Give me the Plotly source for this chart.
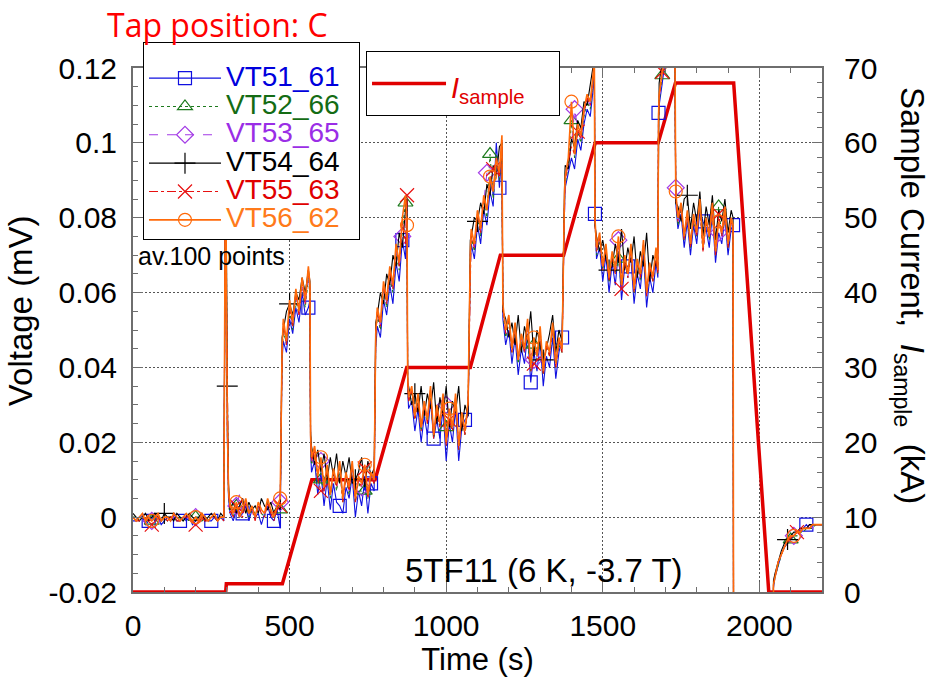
import plotly.graph_objects as go

# ---------------- data ----------------
# time samples (s), grouped by segment of the test
TIME_S = [
    [0,10,20,30,40,50,60,70,80,90,100,110,120,130,140,150,160,170,180,190,200,210,220,230,240,250,260,270,280,290],
    [296,298,301,305],
    [310,320,330,340,350,360,370,380,390,400,410,420,430,440,450,460,470],
    [476,480,490,500,510,520,530,540,550,560,565],
    [567,570,580,590,600,610,620,630,640,650,660,670,680,690,700,710,720,730,740,750,760,770],
    [775,780,790,800,810,820,830,840,850,860,870,875],
    [877,880,890,900,910,920,930,940,950,960,970,980,990,1000,1010,1020,1030,1040,1050,1060,1070],
    [1077,1080,1090,1100,1110,1120,1130,1140,1150,1160,1170,1178],
    [1181,1190,1200,1210,1220,1230,1240,1250,1260,1270,1280,1290,1300,1310,1320,1330,1340,1350,1360,1370],
    [1378,1380,1390,1400,1410,1420,1430,1440,1450,1460,1470,1473],
    [1475,1480,1490,1500,1510,1520,1530,1540,1550,1560,1570,1580,1590,1600,1610,1620,1630,1640,1650,1660,1670,1676],
    [1678,1680,1690,1700,1710,1720,1730],
    [1733,1740,1750,1760,1770,1780,1790,1800,1810,1820,1830,1840,1850,1860,1870,1880,1890,1900,1910,1916],
    [1918,2044],
    [2045,2050,2060,2070,2080,2090,2100,2110,2120,2130,2140,2150,2160,2170,2180,2190,2200],
]

# voltages in microvolt (axis labelled in mV)
VT51_61 = [
    [-1,-1,0,0,-2,-1,0,-1,0,-2,-1,0,-1,0,-1,-1,0,-1,0,-2,-1,0,-1,0,-1,-1,0,-1,0,-1],
    [105,58,22,5],
    [1,-1,2,0,1,3,-1,2,0,1,-2,1,3,0,-1,2,-3],
    [42,47,44,53,49,56,52,60,54,56,58],
    [18,12,15,6,12,3,10,2,9,4,3,1,8,5,11,0,7,3,10,1,9,7],
    [45,51,48,58,54,62,57,68,63,74,69,82],
    [34,29,31,23,29,20,27,22,31,21,26,21,29,15,25,20,29,15,24,26,27],
    [67,73,69,78,73,82,78,87,83,100,88,98],
    [53,46,50,41,48,38,45,41,49,36,44,39,47,35,43,40,48,37,44,48],
    [83,88,92,96,93,101,98,105,109,107,115,122],
    [81,69,72,63,70,60,68,62,71,58,67,67,69,57,65,61,70,56,64,60,68,64],
    [108,110,116,123,129,129,129],
    [84,77,81,72,79,70,78,73,82,79,77,72,81,68,76,73,80,70,77,78],
    [-60,-60],
    [-19,-16,-13,-10,-8,-7,-6,-5,-4,-4,-3,-2,-3,-2,-2,-2,-2],
]
VT52_66 = [
    [0,0,-1,0,-1,0,-1,0,0,-1,0,-1,0,0,-1,0,-1,0,0,-1,0,0,-1,0,-1,0,0,-1,0,0],
    [106,60,25,6],
    [2,0,3,1,1,4,0,2,1,3,1,0,4,1,0,2,2],
    [43,50,46,55,50,58,54,61,56,64,59],
    [20,14,17,9,10,7,12,5,12,7,13,4,11,6,13,4,10,6,7,5,11,9],
    [47,54,50,61,56,64,60,70,66,77,84,85],
    [36,31,33,26,31,23,29,25,33,21,28,24,31,24,28,23,31,18,27,22,30],
    [69,75,71,80,75,84,80,97,85,94,90,100],
    [55,48,52,44,50,41,47,44,47,39,46,42,49,38,46,43,50,40,46,44],
    [85,89,94,106,96,103,100,107,111,109,117,124],
    [79,70,74,66,72,63,70,65,69,61,68,64,71,60,68,63,72,59,67,63,70,65],
    [105,111,118,124,131,131,131],
    [85,78,82,74,80,72,79,75,83,71,79,74,82,70,83,75,81,72,79,77],
    [-60,-60],
    [-18,-16,-13,-10,-8,-7,-6,-5,-5,-4,-4,-3,-3,-3,-2,-2,-2],
]
VT53_65 = [
    [0,-1,0,0,-1,0,-1,0,0,-1,0,0,-1,0,0,-1,0,0,0,-1,0,-1,0,0,-1,0,0,-1,0,0],
    [107,61,25,6],
    [3,1,3,6,1,4,1,2,0,3,1,0,4,2,0,3,4],
    [44,51,46,56,51,59,54,62,57,65,60],
    [21,15,18,10,15,7,13,6,12,8,14,5,11,7,14,5,10,8,13,9,11,9],
    [48,55,51,62,57,66,61,72,67,75,73,86],
    [37,32,34,27,32,24,30,26,34,22,29,25,32,30,28,24,32,19,27,23,30],
    [70,76,72,81,76,85,92,90,86,95,91,101],
    [56,49,53,45,51,42,48,44,52,40,42,43,50,39,46,43,51,41,47,45],
    [86,90,95,99,109,104,101,108,112,110,118,125],
    [79,71,75,67,72,64,70,66,74,61,69,64,72,61,68,64,73,59,67,63,71,66],
    [106,112,118,125,131,131,131],
    [88,79,83,75,81,72,80,76,84,71,79,75,83,70,76,75,82,72,79,77],
    [-60,-60],
    [-18,-15,-12,-10,-8,-6,-5,-5,-4,-4,-3,-3,-2,-3,-2,-2,-2],
]
VT54_64 = [
    [1,0,-1,0,1,-1,0,1,0,-1,1,0,0,-1,1,0,-1,0,1,0,-1,0,1,-1,0,1,0,-1,1,0],
    [108,60,35,9],
    [2,4,1,3,5,1,4,2,3,1,5,3,2,4,1,3,2],
    [48,50,55,57,54,60,58,64,60,66,63],
    [23,19,14,18,12,17,10,16,11,17,9,15,11,16,9,10,12,16,8,15,11,13],
    [52,54,60,57,65,62,70,67,76,72,82,85],
    [36,35,30,33,28,35,27,33,29,36,25,32,27,35,24,31,28,35,23,30,27],
    [74,75,80,79,84,81,89,86,94,91,99,100],
    [55,53,48,52,46,54,44,51,47,55,43,50,46,42,45,49,54,44,50,47],
    [89,94,93,101,99,106,104,111,110,116,121,128],
    [78,75,71,74,69,66,67,73,68,77,66,72,68,75,64,71,67,76,63,70,67,73],
    [110,116,122,128,134,134,134],
    [84,83,79,85,86,77,84,79,87,75,83,78,86,74,82,79,85,76,82,80],
    [-60,-60],
    [-17,-15,-12,-9,-7,-6,-5,-4,-4,-3,-3,-3,-2,-2,-2,-2,-2],
]
VT55_63 = [
    [0,-1,-1,0,-1,0,-2,0,0,-1,0,-1,0,1,-1,-1,0,0,0,-1,-2,0,0,-1,-1,0,0,-1,0,-1],
    [109,62,27,7],
    [2,0,3,1,0,4,1,2,-1,3,1,0,4,1,-1,2,3],
    [44,52,46,56,51,60,54,63,57,66,61],
    [21,15,18,10,7,7,13,6,12,8,14,4,11,7,14,4,10,8,13,5,11,9],
    [48,55,51,62,57,66,61,72,67,79,73,86],
    [35,31,34,26,32,23,30,25,34,21,28,24,32,19,26,23,32,18,27,22,30],
    [70,76,72,81,76,85,82,90,93,95,91,101],
    [56,49,53,44,51,42,48,44,52,39,41,42,50,38,46,43,51,40,47,44],
    [86,90,95,99,97,103,101,108,112,110,118,125],
    [79,71,75,66,72,63,70,65,74,61,69,64,71,60,68,64,73,59,67,63,70,65],
    [106,112,119,126,131,131,131],
    [86,79,83,74,81,72,80,75,84,71,79,75,83,70,81,75,82,72,79,77],
    [-60,-60],
    [-18,-16,-12,-10,-8,-7,-5,-5,-4,-4,-3,-3,-3,-2,-2,-2,-2],
]
VT56_62 = [
    [0,-1,0,1,-1,0,-1,0,1,-1,0,0,-1,1,0,-1,0,1,0,-1,0,-1,1,0,-1,0,1,-1,0,0],
    [112,64,26,7],
    [3,1,4,0,2,5,1,3,0,4,2,1,5,2,0,3,5],
    [45,53,47,58,52,61,55,64,58,67,62],
    [22,16,19,11,16,8,14,6,13,9,15,5,12,8,15,5,11,9,14,6,12,10],
    [49,56,52,63,58,67,62,73,68,80,86,78],
    [38,32,35,27,33,24,31,26,35,22,30,25,33,20,29,24,33,19,28,23,31],
    [71,77,73,82,77,86,82,91,87,96,92,102],
    [57,50,54,45,52,42,49,45,53,40,48,43,51,39,47,44,52,41,48,45],
    [87,91,96,111,97,105,102,109,113,111,119,126],
    [80,72,76,67,73,64,71,66,75,62,70,65,73,61,69,65,74,60,68,64,72,66],
    [107,113,119,126,132,132,132],
    [87,80,84,75,82,73,81,76,85,72,80,75,84,71,79,76,83,73,80,78],
    [-60,-60],
    [-18,-16,-12,-10,-8,-6,-5,-5,-4,-4,-3,-3,-3,-2,-2,-2,-2],
]

# times (s) at which the averaged-point symbols are shown
MARK_51 = [50,150,250,350,450,556,658,757,860,962,1064,1166,1270,1371,1476,1577,1678,1818,1916,2150]
MARK_52 = [60,200,330,470,600,740,870,1000,1140,1280,1400,1550,1690,1870,2100]
MARK_53 = [60,200,330,470,600,730,860,1000,1130,1280,1410,1550,1733,1870,2110]
MARK_54 = [100,301,500,710,900,1100,1310,1520,1770,2090]
MARK_55 = [60,200,330,470,600,740,875,1010,1150,1280,1420,1560,1690,1870,2120]
MARK_56 = [60,200,330,470,600,740,875,1010,1140,1280,1400,1550,1733,1870,2110]

# sample current (kA)
I_TIME = [0, 296, 298, 477, 571, 773, 874, 1077, 1173, 1375, 1476, 1677, 1732, 1918, 2030, 2045, 2200]
I_SAMPLE = [0, 0, 1.1, 1.1, 15, 15, 30, 30, 45, 45, 60, 60, 68, 68, 0, 0, 0]

# axis tick labels
V_TICKS = [-20, 0, 20, 40, 60, 80, 100, 120]
V_TICK_TEXT = ["-0.02", "0", "0.02", "0.04", "0.06", "0.08", "0.1", "0.12"]

# ---------------- build ----------------
def flatten(name, segs):
    if len(segs) != len(TIME_S):
        raise ValueError(f"{name}: {len(segs)} segments")
    out = []
    for k, (ts, vs) in enumerate(zip(TIME_S, segs)):
        if len(ts) != len(vs):
            raise ValueError(f"{name}: segment {k} has {len(vs)} values, expected {len(ts)}")
        out.extend(vs)
    return out

t_all = [v for s in TIME_S for v in s]
n = len(t_all)

SERIES = [
    ("VT51_61", VT51_61, MARK_51, "#1010e0", "#0000dd", "solid", "square-open", 13, 1.1),
    ("VT52_66", VT52_66, MARK_52, "#1d7a1d", "#146c14", "dot", "triangle-up-open", 13, 1.1),
    ("VT53_65", VT53_65, MARK_53, "#a33ae6", "#9a2ee6", "dash", "diamond-open", 13, 1.1),
    ("VT54_64", VT54_64, MARK_54, "#000000", "#000000", "solid", "cross-thin-open", 15, 1.1),
    ("VT55_63", VT55_63, MARK_55, "#e81010", "#e00000", "dashdot", "x-thin-open", 14, 1.1),
    ("VT56_62", VT56_62, MARK_56, "#ff6a0a", "#ff7a1a", "solid", "circle-open", 13, 1.6),
]

fig = go.Figure()

fig.add_trace(go.Scatter(
    x=I_TIME, y=I_SAMPLE, mode="lines", yaxis="y", legend="legend2",
    line=dict(color="#e00000", width=3.5),
    name='<span style="font-size:29px"><i>I</i><sub>sample</sub>\u2002\u2002</span>',
))

for name, segs, marks, col, tcol, dash, sym, msz, lw in SERIES:
    vals = flatten(name, segs)
    picked = sorted({min(range(n), key=lambda i: abs(t_all[i] - m)) for m in marks})
    fig.add_trace(go.Scatter(
        x=t_all, y=vals, mode="lines+markers", yaxis="y2", legend="legend",
        line=dict(color=col, width=lw, dash=dash),
        marker=dict(symbol=sym, size=msz, color=col, line=dict(color=col, width=1.2)),
        selectedpoints=picked,
        selected=dict(marker=dict(opacity=1)),
        unselected=dict(marker=dict(opacity=0)),
        name=f'<span style="font-size:28px;color:{tcol}">{name}\u2002</span>',
    ))

FONT = "Liberation Sans, Arial, Helvetica, sans-serif"
AX = "#6e6e6e"
GRID = dict(showgrid=True, gridcolor="#555555", griddash="2px,2px", gridwidth=1)

fig.update_layout(
    width=935, height=678,
    margin=dict(l=133, r=113, t=68, b=78),
    paper_bgcolor="white", plot_bgcolor="white",
    font=dict(family=FONT, size=29, color="black"),
    showlegend=True,
    dragmode=False,
    xaxis=dict(
        range=[0, 2200], tickmode="linear", tick0=0, dtick=500,
        ticks="inside", ticklen=10, tickwidth=1, tickcolor=AX,
        minor=dict(tickmode="linear", tick0=0, dtick=100, ticks="inside", ticklen=5, tickcolor=AX, showgrid=False),
        showline=True, linecolor=AX, linewidth=2, mirror="ticks", zeroline=False,
        tickfont=dict(size=30), ticklabelstandoff=6,
        title=dict(text="Time (s)", font=dict(size=31), standoff=2),
        **GRID,
    ),
    yaxis=dict(
        range=[0, 70], side="right", tickmode="linear", tick0=0, dtick=10,
        ticks="inside", ticklen=10, tickwidth=1, tickcolor=AX,
        minor=dict(tickmode="linear", tick0=0, dtick=2, ticks="inside", ticklen=5, tickcolor=AX, showgrid=False),
        showline=True, linecolor=AX, linewidth=2, zeroline=False,
        tickfont=dict(size=30), ticklabelstandoff=14,
        **GRID,
    ),
    yaxis2=dict(
        range=[-20, 120], side="left", overlaying="y",
        tickmode="array", tickvals=V_TICKS, ticktext=V_TICK_TEXT,
        ticks="inside", ticklen=10, tickwidth=1, tickcolor=AX,
        minor=dict(tickmode="linear", tick0=0, dtick=5, ticks="inside", ticklen=5, tickcolor=AX, showgrid=False),
        showline=True, linecolor=AX, linewidth=2, zeroline=False, showgrid=False,
        tickfont=dict(size=30), ticklabelstandoff=8,
    ),
    legend=dict(
        x=0.0145, y=1.049, xanchor="left", yanchor="top",
        bgcolor="white", bordercolor="black", borderwidth=1,
        font=dict(size=19.5, family=FONT), itemwidth=72,
        tracegroupgap=0,
        title=dict(text="\u00a0", font=dict(size=12)),
    ),
    legend2=dict(
        x=0.3382, y=1.032, xanchor="left", yanchor="top",
        bgcolor="white", bordercolor="black", borderwidth=1,
        font=dict(size=38, family=FONT, color="#e00000"), itemwidth=74,
    ),
    annotations=[
        dict(text="Tap position: C", xref="paper", yref="paper", x=-0.0406, y=1.0827,
             xanchor="left", yanchor="middle", showarrow=False,
             font=dict(family="Open Sans, Lato, sans-serif", size=32, color="#ff0000")),
        dict(text="Voltage (mV)", xref="paper", yref="paper", x=-0.164, y=0.536,
             xanchor="center", yanchor="middle", textangle=-90, showarrow=False,
             font=dict(size=33)),
        dict(text="Sample Current,\u2002<i>I</i><sub>sample</sub>\u2002(kA)", xref="paper", yref="paper",
             x=1.127, y=0.566, xanchor="center", yanchor="middle", textangle=90, showarrow=False,
             font=dict(size=33)),
        dict(text="av.100 points", xref="paper", yref="paper", x=0.004, y=0.641,
             xanchor="left", yanchor="middle", showarrow=False, font=dict(size=25)),
        dict(text="5TF11 (6 K, -3.7 T)", xref="paper", yref="paper", x=0.392, y=0.041,
             xanchor="left", yanchor="middle", showarrow=False, font=dict(size=33)),
    ],
)

fig.write_html("out.html")
